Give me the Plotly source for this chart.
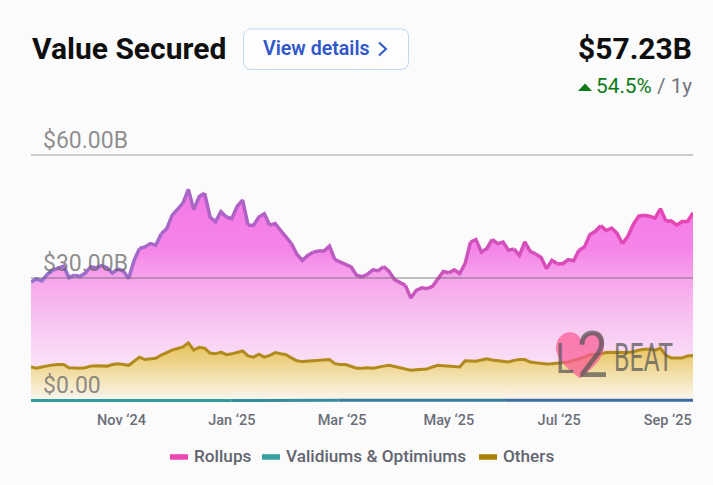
import pandas as pd
import plotly.graph_objects as go

# values in $B (top edge of each band)
dates = pd.date_range("2024-09-12", periods=123, freq="3D")
rollups_top = [
    29.0, 29.8, 29.3, 30.9, 31.9, 32.4, 32.9, 30.1, 30.7, 30.4,
    31.2, 32.7, 32.5, 33.0, 32.5, 31.2, 32.2, 31.7, 29.9, 34.3,
    37.2, 37.6, 38.4, 38.0, 40.8, 42.0, 45.3, 46.9, 48.3, 51.6,
    46.7, 49.9, 50.7, 44.9, 43.7, 46.2, 44.9, 44.5, 47.5, 49.0,
    42.9, 42.9, 44.9, 45.7, 42.9, 43.3, 41.6, 40.0, 38.4, 35.8,
    34.3, 35.5, 36.3, 36.6, 36.6, 37.8, 34.5, 33.9, 33.1, 32.7,
    30.7, 30.3, 30.9, 32.0, 31.8, 32.8, 31.6, 29.6, 29.0, 28.2,
    25.1, 27.0, 27.6, 27.4, 28.0, 29.8, 31.6, 31.3, 32.0, 31.1,
    33.5, 38.8, 39.4, 36.3, 37.2, 39.4, 38.4, 38.8, 36.8, 37.1,
    35.5, 38.8, 36.5, 35.9, 35.0, 32.3, 34.3, 33.5, 33.5, 34.5,
    34.2, 36.8, 37.6, 40.6, 41.4, 42.8, 41.6, 42.2, 40.9, 38.4,
    40.2, 43.1, 45.1, 45.3, 45.1, 44.6, 46.9, 43.9, 43.9, 42.9,
    43.8, 43.8, 45.9,
]
others_top = [
    8.3, 8.0, 8.3, 8.6, 8.8, 8.9, 8.9, 8.1, 8.0, 8.0,
    8.1, 8.5, 8.6, 8.6, 8.5, 8.9, 9.1, 8.9, 8.7, 9.7,
    10.7, 10.1, 10.2, 10.4, 11.2, 11.9, 12.4, 12.8, 13.2, 14.2,
    12.4, 13.1, 12.9, 11.7, 11.5, 11.9, 11.3, 11.5, 11.9, 12.2,
    11.0, 10.7, 11.4, 10.7, 11.1, 11.8, 11.5, 11.3, 10.5, 9.8,
    9.6, 9.7, 9.9, 9.9, 10.0, 10.1, 9.1, 8.9, 8.9, 8.5,
    8.0, 8.0, 8.1, 8.0, 8.3, 8.5, 8.7, 8.4, 8.1, 7.7,
    7.5, 7.6, 7.7, 7.8, 8.3, 8.7, 8.6, 8.5, 8.5, 8.3,
    9.8, 9.8, 9.7, 10.0, 10.3, 10.0, 9.8, 9.7, 9.5, 9.9,
    10.1, 10.1, 9.5, 9.3, 9.1, 9.0, 9.1, 9.2, 9.3, 9.5,
    9.9, 10.3, 10.7, 11.3, 11.4, 11.5, 11.8, 11.9, 11.9, 11.8,
    11.8, 12.0, 12.4, 12.6, 12.6, 12.4, 12.9, 11.1, 10.5, 10.5,
    10.5, 11.0, 11.1,
]
validiums_dates = ["2024-09-12", "2025-01-01", "2025-03-01", "2025-06-01", "2025-09-13"]
validiums_top = [0.1, 0.1, 0.15, 0.2, 0.15]

tick_dates = ["2024-11-01", "2025-01-01", "2025-03-03", "2025-05-01", "2025-07-01", "2025-08-30"]
tick_labels = ["Nov ‘24", "Jan ‘25", "Mar ‘25", "May ‘25", "Jul ‘25", "Sep ‘25"]
y_ticks = [0, 30, 60]
y_labels = ["$0.00", "$30.00B", "$60.00B"]
legend_names = ["Rollups", "Validiums & Optimiums", "Others"]

W, H = 713, 485
PLOT_L, PLOT_R, PLOT_T, PLOT_B = 31, 693, 150.6, 402.75
FONT = "Roboto"
INK = "#0f0f10"
GREY = "#62656f"
LOGO = "rgba(85,85,85,0.72)"


def px(x):
    return (x - PLOT_L) / (PLOT_R - PLOT_L)


def py(y):
    return (PLOT_B - y) / (PLOT_B - PLOT_T)


def mix(c1, c2, t):
    return "rgb(%d,%d,%d)" % tuple(round(a + (b - a) * t) for a, b in zip(c1, c2))


def add_gradient_line(fig, xs, ys, left, right, width, chunks):
    # plotly has no gradient line, so the stroke is drawn in short pieces
    n = len(xs)
    for c in range(chunks):
        i0 = c * (n - 1) // chunks
        i1 = (c + 1) * (n - 1) // chunks + 1
        fig.add_trace(go.Scatter(x=xs[i0:i1], y=ys[i0:i1], mode="lines", showlegend=False,
                                 hoverinfo="skip",
                                 line=dict(color=mix(left, right, c / max(chunks - 1, 1)), width=width)))


def label(text, x, y, size, color, anchor="left", weight=400, family=FONT):
    fig.add_annotation(text=text, x=px(x), y=py(y), xref="paper", yref="paper", showarrow=False,
                       xanchor=anchor, yanchor="middle", align=anchor, borderpad=0,
                       font=dict(family=family, size=size, color=color, weight=weight))


def pixel_path(points, close=False):
    body = " L ".join("%.5f %.5f" % (px(x), py(y)) for x, y in points)
    return "M " + body + (" Z" if close else "")


def curve_path(start, curves):
    # curves are (c1, c2, end) triples in page pixels
    d = "M %.5f %.5f" % (px(start[0]), py(start[1]))
    for c1, c2, end in curves:
        d += " C " + " ".join("%.5f %.5f" % (px(p[0]), py(p[1])) for p in (c1, c2, end))
    return d + " Z"


fig = go.Figure()

fig.add_trace(go.Scatter(
    x=dates, y=others_top, mode="none", fill="tozeroy", showlegend=False, hoverinfo="skip",
    fillgradient=dict(type="vertical", start=14.3, stop=0,
                      colorscale=[[0, "#e6bf55"], [0.45, "#f0d999"], [1, "#fcf8f2"]])))
fig.add_trace(go.Scatter(
    x=dates, y=rollups_top, mode="none", fill="tonexty", showlegend=False, hoverinfo="skip",
    fillgradient=dict(type="vertical", start=52, stop=0,
                      colorscale=[[0, "#f477e6"], [0.29, "#f585e8"], [0.43, "#f6a5ec"],
                                  [0.62, "#f8c3f1"], [0.76, "#f9d8f5"], [1, "#fdf2fb"]])))

add_gradient_line(fig, dates, others_top, (178, 138, 28), (184, 140, 28), 3, 1)
add_gradient_line(fig, dates, rollups_top, (150, 112, 205), (232, 68, 180), 3.5, 30)
add_gradient_line(fig, validiums_dates, validiums_top, (46, 156, 158), (58, 110, 160), 3, 4)

# gridlines sit on top of the fills here
for value, color in [(60, "#cccccc"), (30, "rgba(110,100,110,0.42)")]:
    fig.add_shape(type="line", xref="paper", yref="y", x0=0, x1=1, y0=value, y1=value,
                  layer="above", line=dict(color=color, width=2))

for value, text in zip(y_ticks, y_labels):
    fig.add_annotation(text=text, x=px(42), y=value, xref="paper", yref="y", showarrow=False,
                       xanchor="left", yanchor="bottom", yshift=0.5, borderpad=0,
                       font=dict(family=FONT, size=23, color="rgba(100,100,100,0.72)"))

# header
label("Value Secured", 31, 48, 30, INK, weight=700)
label("View details", 262, 48.5, 19.6, "#3058c8", weight=600)
label("$57.23B", 693, 48, 30, INK, anchor="right", weight=700)
label("<span style='color:#0b7a17'>54.5%</span> / 1y", 693, 86, 20.8, "#737680", anchor="right")

bx0, bx1, by0, by1, r = 243.5, 408.5, 28.5, 69, 8
fig.add_shape(type="path", xref="paper", yref="paper", layer="below",
              path=curve_path((bx0 + r, by0), [
                  ((bx0 + r, by0), (bx1 - r, by0), (bx1 - r, by0)),
                  ((bx1 - 3, by0), (bx1, by0 + 3), (bx1, by0 + r)),
                  ((bx1, by0 + r), (bx1, by1 - r), (bx1, by1 - r)),
                  ((bx1, by1 - 3), (bx1 - 3, by1), (bx1 - r, by1)),
                  ((bx1 - r, by1), (bx0 + r, by1), (bx0 + r, by1)),
                  ((bx0 + 3, by1), (bx0, by1 - 3), (bx0, by1 - r)),
                  ((bx0, by1 - r), (bx0, by0 + r), (bx0, by0 + r)),
                  ((bx0, by0 + 3), (bx0 + 3, by0), (bx0 + r, by0)),
              ]),
              line=dict(color="#bcd5f0", width=1), fillcolor="#fdfdfe")
fig.add_shape(type="path", xref="paper", yref="paper",
              path=pixel_path([(379, 42), (386, 48.5), (379, 55)]),
              line=dict(color="#3058c8", width=2))
fig.add_shape(type="path", xref="paper", yref="paper",
              path=pixel_path([(578, 90.5), (592, 90.5), (585, 83)], close=True),
              line=dict(width=0), fillcolor="#0b7a17")

# legend
swatches = [("#ec44b0", 170, 192.5), ("#35a09f", 262, 284.5), ("#ab7f00", 479, 501.5)]
for name, (color, x0, tx) in zip(legend_names, swatches):
    fig.add_shape(type="rect", xref="paper", yref="paper", x0=px(x0), x1=px(x0 + 18), y0=py(459.5), y1=py(454),
                  line=dict(width=0), fillcolor=color)
    label(name, tx, 456, 17.2, GREY, weight=500)

# watermark
heart = curve_path((580, 378), [
    ((562, 365), (556, 355), (556, 348)),
    ((556, 338), (563, 332), (570, 332)),
    ((576, 332), (580, 336), (581, 340)),
    ((583, 336), (588, 332), (594, 332)),
    ((600, 332), (604, 338), (604, 346)),
    ((604, 356), (596, 366), (580, 378)),
])
fig.add_shape(type="path", xref="paper", yref="paper", path=heart, layer="above",
              line=dict(width=0), fillcolor="rgba(250,90,150,0.72)")
label("L", 575, 358, 42, LOGO, anchor="right")
label("2", 576, 355, 64, LOGO)
label("BEAT", 613, 358, 39, LOGO)

fig.update_layout(
    width=W, height=H, margin=dict(l=PLOT_L, r=W - PLOT_R, t=PLOT_T, b=H - PLOT_B, pad=0),
    paper_bgcolor="#fbfbfc", plot_bgcolor="rgba(0,0,0,0)", showlegend=False, hovermode=False,
    font=dict(family=FONT),
    xaxis=dict(range=[dates[0], dates[-1]], type="date", tickmode="array", tickvals=tick_dates,
               ticktext=tick_labels, showgrid=False, zeroline=False, showline=False, ticks="",
               ticklabelstandoff=6, tickfont=dict(size=14.5, color="#6b6e79", weight=500)),
    yaxis=dict(range=[-0.5, 61], showticklabels=False, showgrid=False, zeroline=False,
               showline=False, ticks=""),
)

# the logo letters are condensed, no installed font has that cut
squeeze = """
var widths = {'L': 18, '2': 31, 'BEAT': 59};
document.body.style.margin = '0';
document.querySelectorAll('.annotation-text').forEach(function (t) {
    var w = widths[t.textContent];
    if (w) {
        t.setAttribute('textLength', w);
        t.setAttribute('lengthAdjust', 'spacingAndGlyphs');
    }
});
"""
fig.write_html("out.html", config=dict(displayModeBar=False), post_script=squeeze)
